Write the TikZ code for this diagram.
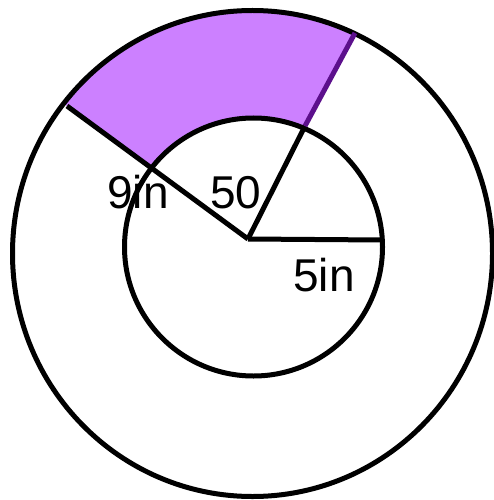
\documentclass[tikz,border=0pt]{standalone}
\usepackage{fontspec}
\setmainfont{Liberation Sans}
\usetikzlibrary{calc}
\definecolor{wedgefill}{RGB}{204,128,255}
\definecolor{wedgeedge}{RGB}{92,16,140}
\begin{document}
\begin{tikzpicture}[x=1pt,y=-1pt,
  rim/.style={draw=black,line width=5pt},
  purplerim/.style={draw=wedgeedge,line width=5pt},
  every node/.style={font=\fontsize{46}{50}\selectfont,inner sep=0pt}]
\useasboundingbox (0,0) rectangle (493,500);
\coordinate (O) at (248,239);
\coordinate (outerc) at (252.5,253.5);
\coordinate (innerc) at (253.5,247);
\coordinate (Lin) at (152,165);
\coordinate (Lout) at (67,106);
\coordinate (Rin) at (305,126);
\coordinate (Rout) at (355,33);
\coordinate (Hend) at (382,240);
\begin{scope}
  \clip (O) -- ($(O)!2!(Lout)$) -- (-120,-300) -- (470,-300) -- ($(O)!2!(Rout)$) -- cycle;
  \fill[wedgefill,even odd rule] (outerc) ellipse [x radius=240pt,y radius=243pt]
    (innerc) circle [radius=129pt];
\end{scope}
\draw[rim] (outerc) ellipse [x radius=240pt,y radius=243pt];
\draw[rim] (innerc) circle [radius=129pt];
\draw[rim] (O) -- (Lout);
\draw[rim] (O) -- (Rin);
\draw[rim] (O) -- (Hend);
\draw[purplerim] (Rin) -- (Rout);
\node (nine) at (138,192) {9in};
\node (angle) at (236,193) {50};
\node (five) at (324,275) {5in};
\end{tikzpicture}
\end{document}
